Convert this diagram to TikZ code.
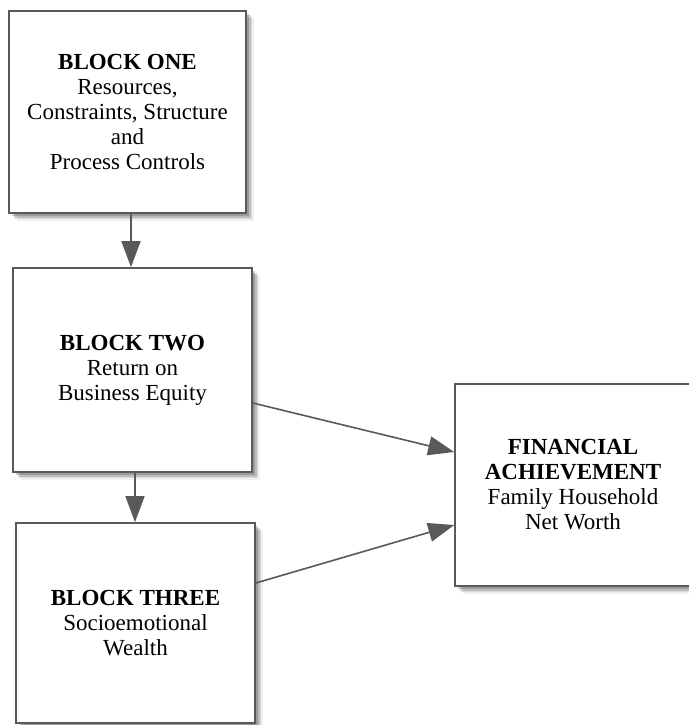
\documentclass[tikz,border=0pt]{standalone}
\usepackage{fontspec}
\setmainfont{Liberation Serif}
\usetikzlibrary{arrows.meta,shadows,calc}
\definecolor{edgecol}{HTML}{595959}
\tikzset{
  softshadow/.style={
    drop shadow={shadow xshift=7.5pt, shadow yshift=-7.5pt, fill=black, opacity=0.06},
    drop shadow={shadow xshift=6pt, shadow yshift=-6pt, fill=black, opacity=0.09},
    drop shadow={shadow xshift=4.5pt, shadow yshift=-4.5pt, fill=black, opacity=0.13},
    drop shadow={shadow xshift=3pt, shadow yshift=-3pt, fill=black, opacity=0.18}},
  blk/.style={rectangle, draw=edgecol, line width=1.6pt, fill=white, softshadow,
    align=center, inner sep=0pt, font=\fontsize{23}{25}\selectfont},
  arr/.style={draw=edgecol, line width=1.6pt, -{Triangle[length=26pt, width=19pt]}}
}
\begin{document}
\begin{tikzpicture}[x=1pt,y=-1pt]
\useasboundingbox[fill=white] (0,0) rectangle (688,725);
\node[blk, minimum width=237pt, minimum height=202pt] (b1) at (127.5,112)
  {\textbf{BLOCK ONE}\\Resources,\\Constraints, Structure\\and\\Process Controls};
\node[blk, minimum width=239pt, minimum height=204pt] (b2) at (132.5,370)
  {\textbf{BLOCK TWO}\\Return on\\Business Equity};
\node[blk, minimum width=239pt, minimum height=200pt] (b3) at (135.5,623)
  {\textbf{BLOCK THREE}\\Socioemotional\\Wealth};
\node[blk, minimum width=236pt, minimum height=202pt] (fin) at (573,485)
  {\textbf{FINANCIAL}\\\textbf{ACHIEVEMENT}\\Family Household\\Net Worth};
\draw[arr] ([xshift=3.5pt]b1.south) -- ([xshift=3.5pt]b1.south |- b2.north);
\draw[arr] ([xshift=2.5pt]b2.south) -- ([xshift=2.5pt]b2.south |- b3.north);
\draw[arr] ([yshift=-33pt]b2.east) -- ([yshift=33pt]fin.west);
\draw[arr] ([yshift=40pt]b3.east) -- ([yshift=-40pt]fin.west);
\end{tikzpicture}
\end{document}
